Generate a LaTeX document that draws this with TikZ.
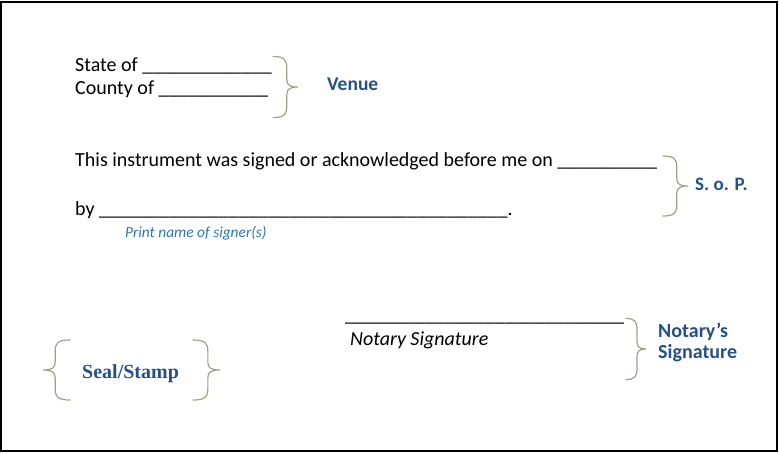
\documentclass[tikz,border=0pt]{standalone}
\usepackage{fontspec}
\setmainfont{Carlito}
\newfontfamily\sealfont{Liberation Serif}
\definecolor{lblblue}{HTML}{24508C}
\definecolor{hintblue}{HTML}{2E75B6}
\definecolor{bracecol}{HTML}{A39E85}
\newcommand\ublank[1]{\foreach\i in {1,...,#1}{\_}}
\begin{document}
\begin{tikzpicture}[x=1pt,y=-1pt,
  txt/.style={anchor=base west,inner sep=0pt,font=\fontsize{20}{24}\selectfont},
  lbl/.style={anchor=base west,inner sep=0pt,text=lblblue,font=\fontsize{20}{24}\selectfont\bfseries},
  bracepath/.style={draw=bracecol,line width=1.2pt,line cap=round}]
\useasboundingbox (0,0) rectangle (779,453);
\draw[line width=2pt] (1,1.5) rectangle (777,451);
% unit right brace
\def\unitbrace{(0,-1) .. controls (0.45,-1) and (0.55,-0.9) .. (0.55,-0.62) -- (0.55,-0.25) .. controls (0.55,-0.05) and (0.7,0) .. (1,0) .. controls (0.7,0) and (0.55,0.05) .. (0.55,0.25) -- (0.55,0.62) .. controls (0.55,0.9) and (0.45,1) .. (0,1)}
% texts
\node[txt] (state) at (75,71) {State of \ublank{13}};
\node[txt] (county) at (75,94) {County of \ublank{11}};
\node[lbl,font=\fontsize{19.5}{23}\selectfont\bfseries] (venue) at (327,90) {Venue};
\node[txt] (instr) at (75,166) {This instrument was signed or acknowledged before me on \ublank{10}};
\node[txt] (by) at (75,215) {by \ublank{41}.};
\node[anchor=base west,inner sep=0pt,text=hintblue,font=\fontsize{15.4}{18}\selectfont\itshape] (print) at (125,237) {Print name of signer(s)};
\node[lbl,font=\fontsize{19}{22}\selectfont\bfseries] (sop) at (695,190) {S. o. P.};
\node[txt] (sigline) at (345,321) {\ublank{28}};
\node[txt,font=\fontsize{20}{24}\selectfont\itshape] (notsig) at (350,345) {Notary Signature};
\node[lbl] (notarys) at (658,337) {Notary’s};
\node[lbl] (signature) at (658,358) {Signature};
\node[anchor=base west,inner sep=0pt,text=lblblue,font=\fontsize{20}{24}\selectfont\sealfont\bfseries] (seal) at (82,378) {Seal/Stamp};
% braces
\begin{scope}[shift={(273,87)},xscale=25,yscale=30.5]
  \draw[bracepath] \unitbrace;
\end{scope}
\begin{scope}[shift={(663,186)},xscale=25,yscale=30]
  \draw[bracepath] \unitbrace;
\end{scope}
\begin{scope}[shift={(626,349)},xscale=20,yscale=30.5]
  \draw[bracepath] \unitbrace;
\end{scope}
\begin{scope}[shift={(70,370)},xscale=-27,yscale=30]
  \draw[bracepath] \unitbrace;
\end{scope}
\begin{scope}[shift={(193,370)},xscale=27,yscale=30]
  \draw[bracepath] \unitbrace;
\end{scope}
\end{tikzpicture}
\end{document}
